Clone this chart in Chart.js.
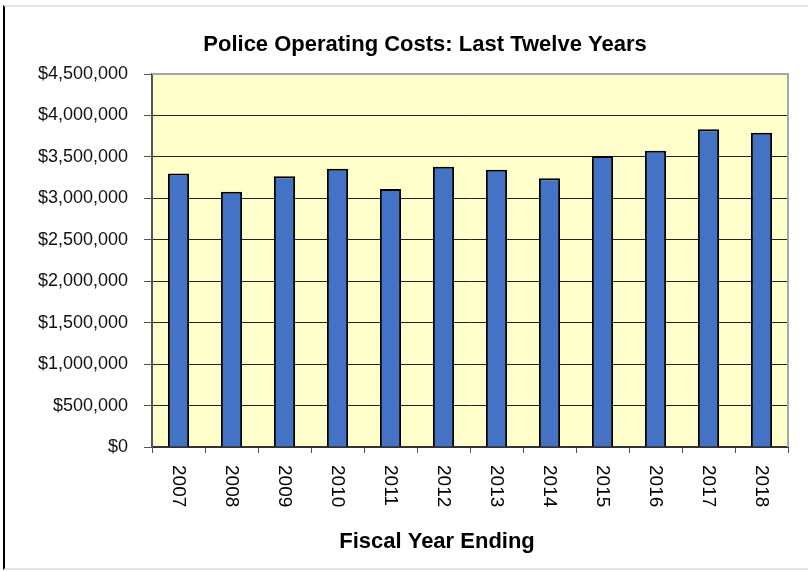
<!DOCTYPE html>
<html>
<head>
<meta charset="utf-8">
<script src="https://cdn.jsdelivr.net/npm/chart.js@4/dist/chart.umd.min.js"></script>
<style>
  body { margin: 0; background: #fff; }
  #wrap { position: relative; width: 808px; height: 571px; }
  #frame {
    position: absolute; left: 3px; top: 5px; width: 805px; height: 565px;
    box-sizing: border-box; pointer-events: none;
    border-left: 2px solid #000; border-top: 2px solid #e4e4e4; border-bottom: 2px solid #e4e4e4;
  }
</style>
</head>
<body>
<div id="wrap">
  <canvas id="costChart" width="808" height="571"></canvas>
  <div id="frame"></div>
</div>
<script>
// Police operating costs by fiscal year
const years = ['2007', '2008', '2009', '2010', '2011', '2012', '2013', '2014', '2015', '2016', '2017', '2018'];
const costs = [3301000, 3080000, 3265000, 3358000, 3113000, 3382000, 3346000, 3241000, 3511000, 3575000, 3832000, 3792000];
const yMax = 4500000;
const yStep = 500000;

const chartTitle = 'Police Operating Costs: Last Twelve Years';
const xTitle = 'Fiscal Year Ending';
const fontFamily = "'Liberation Sans', Arial, sans-serif";

// Yellow plot background, grey top/right frame, rotated year labels and titles
const decor = {
    id: 'decor',
    beforeDraw(chart) {
        const { ctx, chartArea: a } = chart;
        ctx.save();
        ctx.fillStyle = '#ffffcc';
        ctx.fillRect(a.left, a.top, a.right - a.left, a.bottom - a.top);
        ctx.restore();
    },
    beforeDatasetsDraw(chart) {
        const { ctx, chartArea: a } = chart;
        ctx.save();
        ctx.strokeStyle = '#a6a6a6';
        ctx.lineWidth = 2;
        ctx.beginPath();
        ctx.moveTo(a.left, a.top);
        ctx.lineTo(a.right, a.top);
        ctx.lineTo(a.right, a.bottom);
        ctx.stroke();
        ctx.restore();
    },
    afterDraw(chart) {
        const { ctx, chartArea: a } = chart;
        const xs = chart.scales.x;
        ctx.save();
        ctx.fillStyle = '#000';

        // year labels, reading top to bottom
        ctx.font = '19px ' + fontFamily;
        ctx.textAlign = 'left';
        ctx.textBaseline = 'middle';
        years.forEach((y, i) => {
            ctx.save();
            ctx.translate(xs.getPixelForValue(i), a.bottom + 18);
            ctx.rotate(Math.PI / 2);
            ctx.fillText(y, 0, 0);
            ctx.restore();
        });

        ctx.textAlign = 'center';
        ctx.font = 'bold 22px ' + fontFamily;
        ctx.fillText(chartTitle, 425, 45);
        ctx.fillText(xTitle, 437, 542);
        ctx.restore();
    }
};

new Chart(document.getElementById('costChart'), {
    type: 'bar',
    data: {
        labels: years,
        datasets: [{
            label: 'Operating Costs',
            data: costs,
            backgroundColor: '#4472c4',
            borderColor: '#000',
            borderWidth: 2,
            barPercentage: 0.4,
            categoryPercentage: 1
        }]
    },
    options: {
        responsive: false,
        animation: false,
        layout: { padding: { left: 0, right: 20, top: 74, bottom: 0 } },
        plugins: {
            legend: { display: false },
            tooltip: { enabled: false }
        },
        scales: {
            x: {
                grid: { drawOnChartArea: false, tickLength: 6, tickColor: '#555', lineWidth: 1 },
                border: { color: '#333', width: 2 },
                ticks: { display: false },
                afterFit(scale) { scale.height = 124; }
            },
            y: {
                min: 0,
                max: yMax,
                ticks: {
                    stepSize: yStep,
                    padding: 16,
                    color: '#111',
                    font: { family: fontFamily, size: 18 },
                    callback: v => '$' + v.toLocaleString('en-US')
                },
                grid: {
                    color: ctx => ctx.tick && ctx.tick.value === yMax ? '#a6a6a6' : '#222',
                    tickColor: '#555',
                    tickLength: 8,
                    lineWidth: 1
                },
                border: { color: '#555', width: 2 },
                afterFit(scale) { scale.width = 152; }
            }
        }
    },
    plugins: [decor]
});
</script>
</body>
</html>
